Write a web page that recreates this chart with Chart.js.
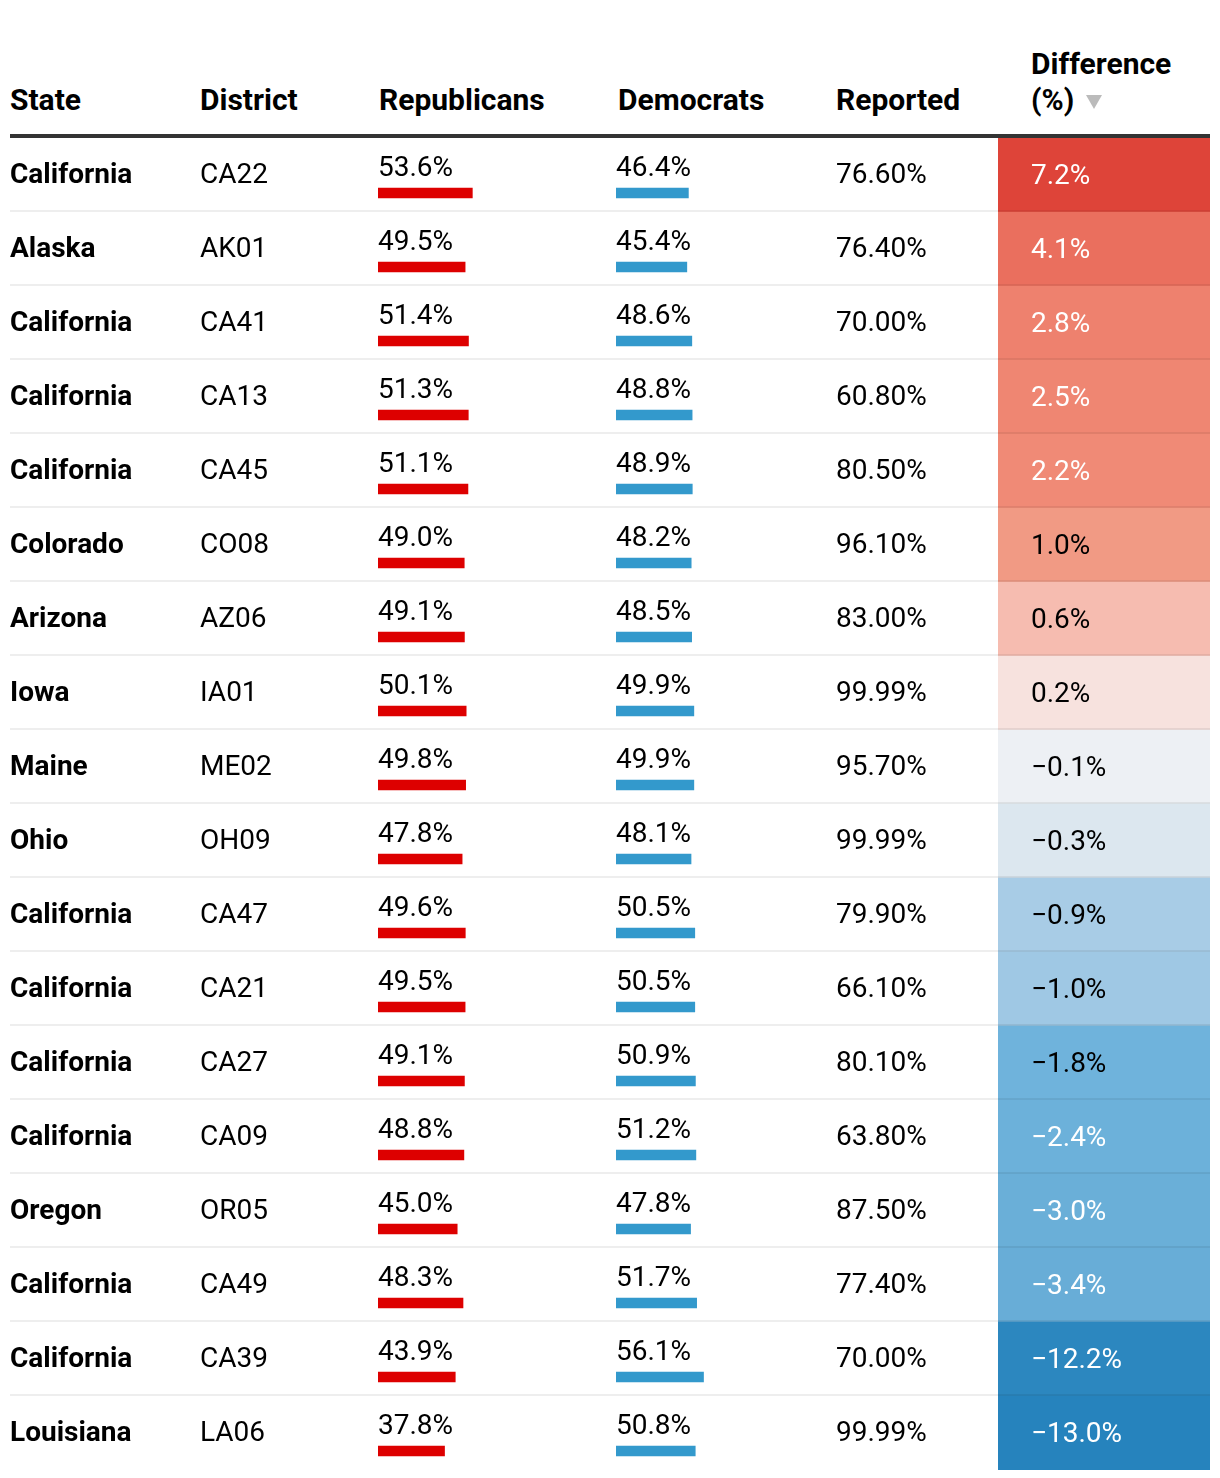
<!DOCTYPE html>
<html>
<head>
<meta charset="utf-8">
<script src="https://cdn.jsdelivr.net/npm/chart.js@4.4.1/dist/chart.umd.min.js"></script>
<style>
html, body { margin: 0; padding: 0; background: #fff; }
body { width: 1220px; height: 1478px; position: relative; overflow: hidden; font-family: Roboto, sans-serif; color: #000; }
.h { position: absolute; font-weight: 700; font-size: 30px; line-height: 36px; white-space: nowrap; }
.arrow { position: absolute; left: 1086px; top: 95px; width: 0; height: 0;
  border-left: 8px solid transparent; border-right: 8px solid transparent; border-top: 14px solid #bbb; }
.rule { position: absolute; left: 10px; top: 134px; width: 1200px; height: 4px; background: #333; }
.row { position: absolute; left: 10px; width: 1200px; height: 72px; border-bottom: 2px solid rgba(0,0,0,0.067); z-index: 3; }
.row.last { border-bottom: none; }
.cell { position: absolute; top: 0; font-size: 28px; line-height: 72px; white-space: nowrap; }
.cell.state { font-weight: 700; }
canvas { position: absolute; z-index: 1; }
</style>
</head>
<body>

<div class="h" style="left:10px;top:82px">State</div>
<div class="h" style="left:200px;top:82px">District</div>
<div class="h" style="left:379px;top:82px">Republicans</div>
<div class="h" style="left:618px;top:82px">Democrats</div>
<div class="h" style="left:836px;top:82px">Reported</div>
<div class="h" style="left:1031px;top:46px">Difference</div>
<div class="h" style="left:1031px;top:82px">(%)</div>
<div class="arrow"></div>
<div class="rule"></div>

<div id="rows"></div>

<canvas id="repChart" width="176" height="1332" style="left:378px;top:156px;width:176px;height:1332px"></canvas>
<canvas id="demChart" width="156" height="1332" style="left:616px;top:156px;width:156px;height:1332px"></canvas>
<canvas id="diffChart" width="212" height="1332" style="left:998px;top:138px;width:212px;height:1332px"></canvas>

<script>
const states = ['California', 'Alaska', 'California', 'California', 'California', 'Colorado',
  'Arizona', 'Iowa', 'Maine', 'Ohio', 'California', 'California', 'California', 'California',
  'Oregon', 'California', 'California', 'Louisiana'];
const districts = ['CA22', 'AK01', 'CA41', 'CA13', 'CA45', 'CO08', 'AZ06', 'IA01', 'ME02',
  'OH09', 'CA47', 'CA21', 'CA27', 'CA09', 'OR05', 'CA49', 'CA39', 'LA06'];
const republicans = [53.6, 49.5, 51.4, 51.3, 51.1, 49.0, 49.1, 50.1, 49.8, 47.8, 49.6, 49.5,
  49.1, 48.8, 45.0, 48.3, 43.9, 37.8];
const democrats = [46.4, 45.4, 48.6, 48.8, 48.9, 48.2, 48.5, 49.9, 49.9, 48.1, 50.5, 50.5,
  50.9, 51.2, 47.8, 51.7, 56.1, 50.8];
const reported = [76.60, 76.40, 70.00, 60.80, 80.50, 96.10, 83.00, 99.99, 95.70, 99.99, 79.90,
  66.10, 80.10, 63.80, 87.50, 77.40, 70.00, 99.99];
const difference = [7.2, 4.1, 2.8, 2.5, 2.2, 1.0, 0.6, 0.2, -0.1, -0.3, -0.9, -1.0, -1.8, -2.4,
  -3.0, -3.4, -12.2, -13.0];

// diverging colour scale for the difference column
const diffStops = [
  [-13, [38, 131, 189]], [-3.4, [104, 173, 215]], [-1.8, [111, 179, 220]], [-1.0, [159, 200, 228]],
  [-0.3, [220, 231, 239]], [0, [245, 245, 246]], [0.2, [247, 226, 222]], [0.6, [246, 188, 176]],
  [1.0, [241, 154, 132]], [2.2, [240, 138, 118]], [4.1, [234, 111, 94]], [7.2, [222, 68, 57]]
];

function diffColor(d) {
  if (d <= diffStops[0][0]) return 'rgb(' + diffStops[0][1].join(',') + ')';
  for (let i = 1; i < diffStops.length; ++i) {
    if (d <= diffStops[i][0]) {
      const a = diffStops[i - 1], b = diffStops[i];
      const t = (d - a[0]) / (b[0] - a[0]);
      const c = a[1].map((v, k) => Math.round(v + (b[1][k] - v) * t));
      return 'rgb(' + c.join(',') + ')';
    }
  }
  return 'rgb(' + diffStops[diffStops.length - 1][1].join(',') + ')';
}

function fmtDiff(d) {
  return (d < 0 ? '\u2212' : '') + Math.abs(d).toFixed(1) + '%';
}

// table rows (text columns)
const rowsEl = document.getElementById('rows');
for (let i = 0; i < states.length; ++i) {
  const row = document.createElement('div');
  row.className = 'row' + (i === states.length - 1 ? ' last' : '');
  row.style.top = (138 + i * 74) + 'px';
  row.innerHTML =
    '<div class="cell state" style="left:0">' + states[i] + '</div>' +
    '<div class="cell" style="left:190px">' + districts[i] + '</div>' +
    '<div class="cell" style="left:826px">' + reported[i].toFixed(2) + '%</div>';
  rowsEl.appendChild(row);
}

// writes the value above each small bar
const barLabels = {
  id: 'barLabels',
  afterDatasetsDraw(chart) {
    const ctx = chart.ctx;
    const values = chart.data.datasets[0].data;
    ctx.save();
    ctx.font = '28px Roboto';
    ctx.fillStyle = '#000';
    ctx.textBaseline = 'alphabetic';
    chart.getDatasetMeta(0).data.forEach((bar, i) => {
      ctx.fillText(values[i].toFixed(1) + '%', bar.base, bar.y - 17);
    });
    ctx.restore();
  }
};

// writes the difference inside each coloured cell
const diffLabels = {
  id: 'diffLabels',
  afterDatasetsDraw(chart) {
    const ctx = chart.ctx;
    ctx.save();
    ctx.font = '28px Roboto';
    ctx.textBaseline = 'alphabetic';
    chart.getDatasetMeta(0).data.forEach((bar, i) => {
      const d = difference[i];
      ctx.fillStyle = Math.abs(d) >= 2 ? '#fff' : '#000';
      ctx.fillText(fmtDiff(d), 33, bar.y + 9);
    });
    ctx.restore();
  }
};

function smallBars(id, values, color) {
  return new Chart(document.getElementById(id), {
    type: 'bar',
    data: {
      labels: districts,
      datasets: [{ data: values, backgroundColor: color, barThickness: 10 }]
    },
    options: {
      indexAxis: 'y',
      responsive: false,
      animation: false,
      layout: { padding: 0 },
      plugins: { legend: { display: false }, tooltip: { enabled: false } },
      scales: {
        x: { display: false, min: 0, max: 100 },
        y: { display: false }
      }
    },
    plugins: [barLabels]
  });
}

smallBars('repChart', republicans, '#dd0000');
smallBars('demChart', democrats, '#3399cc');

new Chart(document.getElementById('diffChart'), {
  type: 'bar',
  data: {
    labels: districts,
    datasets: [{
      data: difference.map(() => 1),
      backgroundColor: (c) => diffColor(difference[c.dataIndex]),
      barPercentage: 1,
      categoryPercentage: 1
    }]
  },
  options: {
    indexAxis: 'y',
    responsive: false,
    animation: false,
    layout: { padding: 0 },
    plugins: { legend: { display: false }, tooltip: { enabled: false } },
    scales: {
      x: { display: false, min: 0, max: 1 },
      y: { display: false }
    }
  },
  plugins: [diffLabels]
});
</script>
</body>
</html>
